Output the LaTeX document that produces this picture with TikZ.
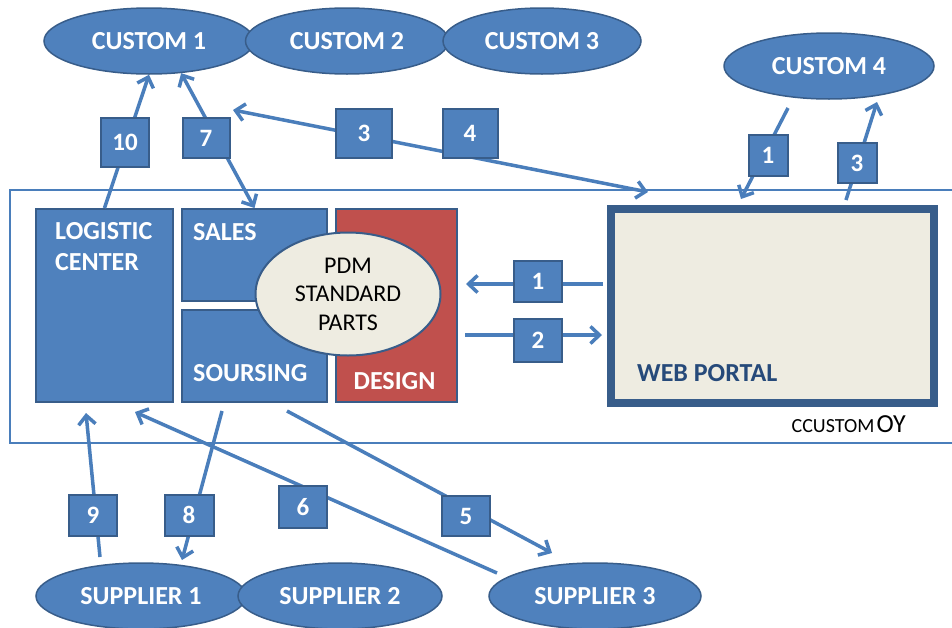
\documentclass[tikz,border=0pt]{standalone}
\usepackage{fontspec}
\setmainfont{Carlito}
\usetikzlibrary{shapes.geometric,arrows.meta,positioning}
\definecolor{officeblue}{HTML}{4F81BD}
\definecolor{officeline}{HTML}{385D8A}
\definecolor{officered}{HTML}{C0504D}
\definecolor{officebeige}{HTML}{EEECE1}
\definecolor{portaltext}{HTML}{264A7A}
\definecolor{flowblue}{HTML}{4A7EBB}

\begin{document}
\begin{tikzpicture}[
  x=1pt,y=-1pt,
  bigtext/.style={font=\bfseries\fontsize{26}{31}\selectfont},
  partner/.style={ellipse,draw=officeline,fill=officeblue,line width=1.5pt,text=white,bigtext,minimum height=66pt,inner sep=0pt},
  dept/.style={rectangle,draw=officeline,fill=officeblue,line width=2pt,inner sep=0pt},
  numbox/.style={rectangle,draw=officeline,fill=officeblue,line width=2pt,text=white,font=\bfseries\fontsize{25}{28}\selectfont,inner sep=0pt},
  ]
  \tikzset{%
    flow/.style={
      draw=flowblue,
      line width=3.5pt,
    },
    arrowto/.style={-{Straight Barb[length=9pt,width=17pt]}},
    arrowboth/.style={{Straight Barb[length=9pt,width=17pt]}-{Straight Barb[length=9pt,width=17pt]}},
    inlabel/.style={inner sep=0pt,text=white,bigtext,align=left},
  }
  \useasboundingbox (0,0) rectangle (952,627);
  %Company frame
  \node[rectangle,draw=flowblue,line width=1.8pt,minimum width=952pt,minimum height=253pt](company) at (486,316.5){};
  \node[anchor=base east,inner sep=0pt](companyname) at (906,432){{\fontsize{20}{22}\selectfont CCUSTOM} {\fontsize{26}{28}\selectfont OY}};
  %Departments
  \node[dept,minimum width=137pt,minimum height=193pt,label={[inlabel,anchor=north west,xshift=20pt,yshift=-14pt]north west:LOGISTIC\\CENTER}](logistic) at (104.5,305.5){};
  \node[dept,minimum width=145pt,minimum height=92pt,label={[inlabel,anchor=north west,xshift=12pt,yshift=-15pt]north west:SALES}](sales) at (254.5,255){};
  \node[dept,minimum width=145pt,minimum height=92pt,label={[inlabel,anchor=south west,xshift=12pt,yshift=21pt]south west:SOURSING}](soursing) at (254.5,356){};
  \node[dept,fill=officered,minimum width=121pt,minimum height=193pt,label={[inlabel,anchor=south,xshift=-2pt,yshift=13pt]south:DESIGN}](design) at (396.5,305.5){};
  \node[ellipse,draw=officeline,fill=officebeige,line width=2pt,minimum width=185pt,minimum height=123pt,inner sep=0pt,align=center,font=\fontsize{24}{28.5}\selectfont](pdm) at (348,294){PDM\\STANDARD\\PARTS};
  \node[rectangle,draw=officeline,fill=officebeige,line width=8pt,minimum width=323pt,minimum height=194pt,label={[anchor=south west,inner sep=0pt,xshift=30pt,yshift=25pt,text=portaltext,bigtext]south west:WEB PORTAL}](portal) at (772.5,306){};
  %Customers and suppliers
  \node[partner,minimum width=210pt](custom1) at (149,41){CUSTOM 1\hspace{18pt}};
  \node[partner,minimum width=203pt](custom2) at (347,41){CUSTOM 2\hspace{14pt}};
  \node[partner,minimum width=198pt](custom3) at (542,41){CUSTOM 3\hspace{14pt}};
  \node[partner,minimum width=210pt](custom4) at (829,66){CUSTOM 4\hspace{8pt}};
  \node[partner,minimum width=210pt](supplier1) at (141,596){SUPPLIER 1};
  \node[partner,minimum width=204pt](supplier2) at (340,596){SUPPLIER 2};
  \node[partner,minimum width=212pt](supplier3) at (595,596){SUPPLIER 3};
  %Free line ends
  \coordinate (c1side) at (233,110);
  \coordinate (frametop) at (648,192);
  \coordinate (c4out) at (788,108);
  \coordinate (portaltop) at (741,199);
  \coordinate (portalup) at (846,200);
  \coordinate (c4in) at (877,102);
  \coordinate (portalout) at (603,284);
  \coordinate (designin) at (466,284);
  \coordinate (designout) at (465,335);
  \coordinate (portalin) at (602,335);
  \coordinate (s1up) at (100,557);
  \coordinate (login) at (86,413);
  \coordinate (sourout) at (222,411);
  \coordinate (s1in) at (182,560);
  \coordinate (s3out) at (497,573);
  \coordinate (logside) at (135,412);
  \coordinate (soursideout) at (287,411);
  \coordinate (s3in) at (552,553);
  %Lines
  \draw[flow]
    (logistic.north) edge[arrowto] (custom1.south)
    (custom1.-45) edge[arrowboth] (sales.north)
    (c1side) edge[arrowboth] (frametop)
    (c4out) edge[arrowto] (portaltop)
    (portalup) edge[arrowto] (c4in)
    (portalout) edge[arrowto] (designin)
    (designout) edge[arrowto] (portalin)
    (s1up) edge[arrowto] (login)
    (sourout) edge[arrowto] (s1in)
    (s3out) edge[arrowto] (logside)
    (soursideout) edge[arrowto] (s3in)
    ;
  %Step numbers
  \node[numbox,minimum width=48pt,minimum height=49pt](n10) at (125,142){10};
  \node[numbox,minimum width=47pt,minimum height=40pt](n7) at (206,138){7};
  \node[numbox,minimum width=56pt,minimum height=49pt](n3) at (364,133){3};
  \node[numbox,minimum width=55pt,minimum height=49pt](n4) at (470,133){4};
  \node[numbox,minimum width=39pt,minimum height=41pt](n1top) at (768,155){1};
  \node[numbox,minimum width=39pt,minimum height=40pt](n3top) at (857,163){3};
  \node[numbox,minimum width=48pt,minimum height=41pt](n1) at (538,281){1};
  \node[numbox,minimum width=48pt,minimum height=43pt](n2) at (538,340){2};
  \node[numbox,minimum width=48pt,minimum height=41pt](n9) at (93,515){9};
  \node[numbox,minimum width=49pt,minimum height=41pt](n8) at (189,515){8};
  \node[numbox,minimum width=48pt,minimum height=42pt](n6) at (303,507){6};
  \node[numbox,minimum width=48pt,minimum height=40pt](n5) at (466,516){5};
\end{tikzpicture}
\end{document}
